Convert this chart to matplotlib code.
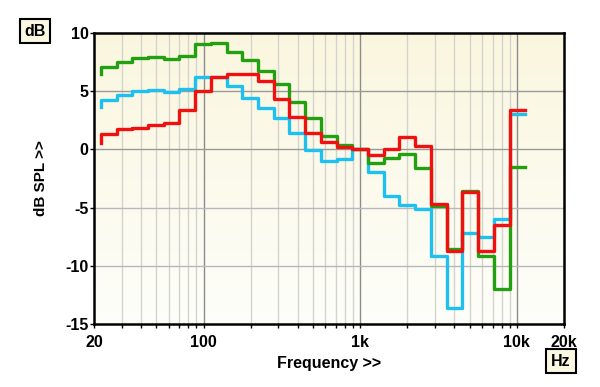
import numpy as np
import matplotlib
matplotlib.use("Agg")
import matplotlib.pyplot as plt
from matplotlib.ticker import FixedLocator, NullFormatter
from matplotlib.colors import LinearSegmentedColormap

plt.rcParams['font.family'] = ['Liberation Sans', 'DejaVu Sans']
plt.rcParams['axes.unicode_minus'] = False

# 1/3 octave band centres (Hz)
bands = [20, 25, 31.5, 40, 50, 63, 80, 100, 125, 160, 200, 250, 315, 400, 500,
         630, 800, 1000, 1250, 1600, 2000, 2500, 3150, 4000, 5000, 6300, 8000, 10000]

green = [6.5, 7.05, 7.5, 7.83, 7.91, 7.77, 8.05, 9.08, 9.17, 8.4, 7.68, 6.74, 5.62, 4.05,
         2.67, 1.15, 0.35, 0.03, -1.2, -0.7, -0.42, -1.62, -4.86, -8.56, -3.55, -9.16, -11.96, -1.48]
cyan = [3.6, 4.24, 4.67, 4.99, 5.08, 4.9, 5.16, 6.19, 6.25, 5.45, 4.44, 3.58, 2.67, 1.4,
        -0.05, -1.0, -0.8, 0.0, -1.93, -4.0, -4.8, -5.13, -9.2, -13.6, -7.21, -7.55, -5.98, 3.04]
red = [0.58, 1.32, 1.75, 1.84, 2.12, 2.24, 3.36, 5.0, 6.25, 6.45, 6.45, 5.85, 4.3, 2.8,
       1.44, 0.62, 0.2, 0.0, -0.48, 0.0, 1.04, 0.29, -4.66, -8.73, -3.69, -8.73, -6.47, 3.36]

xticks = [20, 100, 1000, 10000, 20000]
xticklabels = ['20', '100', '1k', '10k', '20k']
yticks = [-15, -10, -5, 0, 5, 10]

# steps drawn at upper band edges
n = np.arange(-17, 11)
edges = 1000.0 * 2.0 ** (n / 3.0) * 2.0 ** (1 / 6.0)

fig = plt.figure(figsize=(6.0, 3.87), dpi=100)
ax = fig.add_axes([94 / 600, 1 - 324 / 387, 470 / 600, 291 / 387])
ax.set_xscale('log')
ax.set_xlim(20, 20000)
ax.set_ylim(-15, 10)

# yellowish gradient background
cmap = LinearSegmentedColormap.from_list('bg', ['#fefefa', '#faf6de'])
grad = np.linspace(0, 1, 256).reshape(-1, 1)
ax.imshow(grad, cmap=cmap, aspect='auto', extent=[0, 1, 0, 1],
          transform=ax.transAxes, origin='lower', zorder=0)

minor = [f for d in (10, 100, 1000) for f in np.arange(2, 10) * d if 20 < f < 20000 and f != 20]
for f in minor:
    ax.axvline(f, color='#d4d4ce', lw=1.0, zorder=1)
for f in [100, 1000, 10000]:
    ax.axvline(f, color='#8c8c8c', lw=1.0, zorder=1)
for v in [-10, -5, 0, 5]:
    ax.axhline(v, color='#9a9a9a' if v in (0, 5) else '#b8b8b8', lw=1.0, zorder=1)

ax.step(edges, cyan, where='pre', color='#1ec0f0', lw=2.4, zorder=3)
ax.step(edges, green, where='pre', color='#23a012', lw=2.4, zorder=4)
ax.step(edges, red, where='pre', color='#f01010', lw=2.4, zorder=5)

ax.xaxis.set_major_locator(FixedLocator(xticks))
ax.set_xticklabels(xticklabels)
ax.xaxis.set_minor_locator(FixedLocator(minor))
ax.xaxis.set_minor_formatter(NullFormatter())
ax.set_yticks(yticks)
ax.tick_params(axis='both', which='major', length=3, width=1, labelsize=11.5)
ax.tick_params(axis='x', which='major', pad=5)
ax.tick_params(axis='y', which='major', pad=1)
ax.tick_params(axis='x', which='minor', length=3, width=1)
for lab in ax.get_xticklabels() + ax.get_yticklabels():
    lab.set_fontweight('bold')

for s in ax.spines.values():
    s.set_linewidth(1.8)
    s.set_color('black')
    s.set_zorder(6)

ax.set_xlabel('Frequency >>', fontsize=11.5, fontweight='bold', labelpad=4)
ax.set_ylabel('dB SPL >>', fontsize=11, fontweight='bold', labelpad=12)

box = dict(boxstyle='square,pad=0.3', fc='#fbf8e2', ec='black', lw=1.5)
fig.text(35 / 600, 1 - 31 / 387, 'dB', ha='center', va='center', fontsize=11.5,
         fontweight='bold', bbox=box)
fig.text(561 / 600, 1 - 361 / 387, 'Hz', ha='center', va='center', fontsize=11.5,
         fontweight='bold', bbox=box)

fig.savefig('out.png', dpi=100)
